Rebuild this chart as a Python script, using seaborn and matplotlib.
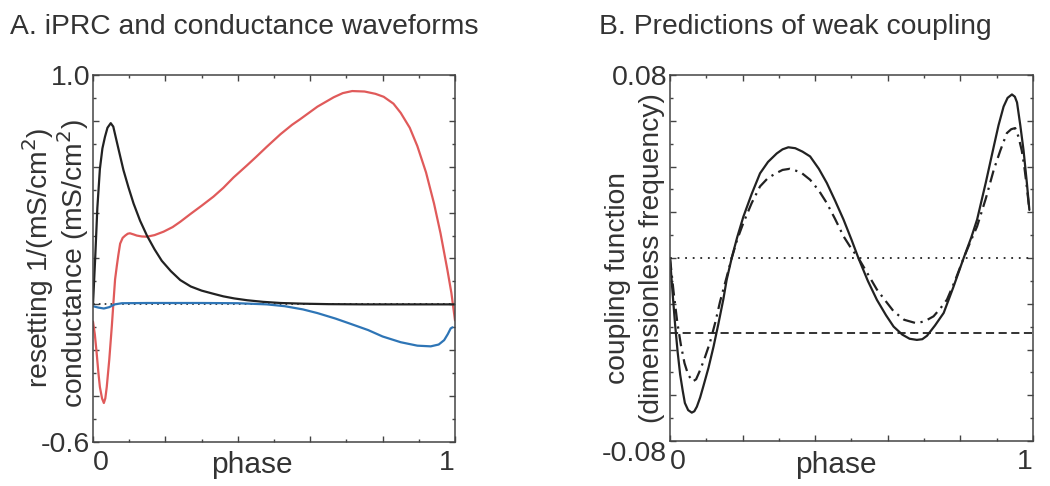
import numpy as np
import pandas as pd
import matplotlib
matplotlib.use("Agg")
import matplotlib.pyplot as plt
from matplotlib.ticker import FixedLocator, FixedFormatter
import seaborn as sns

sns.set_theme(style="white")
plt.rcParams['font.family'] = ['Liberation Sans', 'DejaVu Sans']
TXT = "#333333"
plt.rcParams['text.color'] = TXT

# ---------------- Panel A data ----------------
iprc_phase = [0, 0.006, 0.012, 0.019, 0.026, 0.033, 0.040, 0.049, 0.056, 0.070, 0.084,
              0.098, 0.112, 0.13, 0.149, 0.17, 0.19, 0.215, 0.241, 0.27, 0.30, 0.333,
              0.36, 0.39, 0.426, 0.47, 0.518, 0.58, 0.65, 0.75, 1.0]
iprc_val = [0, 0.20, 0.42, 0.59, 0.68, 0.73, 0.77, 0.79, 0.775, 0.68, 0.586,
            0.51, 0.44, 0.365, 0.30, 0.24, 0.19, 0.145, 0.106, 0.078, 0.060, 0.046,
            0.035, 0.026, 0.018, 0.011, 0.006, 0.003, 0.001, 0.0, 0.0]

red_phase = [0, 0.005, 0.010, 0.015, 0.019, 0.025, 0.030, 0.034, 0.038, 0.045, 0.052,
             0.057, 0.061, 0.066, 0.070, 0.075, 0.082, 0.089, 0.096, 0.102, 0.112,
             0.121, 0.135, 0.149, 0.17, 0.195, 0.22, 0.241, 0.27, 0.30, 0.333, 0.36,
             0.388, 0.426, 0.45, 0.48, 0.518, 0.55, 0.572, 0.62, 0.665, 0.69, 0.716,
             0.75, 0.78, 0.803, 0.83, 0.85, 0.875, 0.896, 0.92, 0.942, 0.96, 0.979,
             0.99, 1.0]
red_val = [-0.075, -0.13, -0.21, -0.30, -0.36, -0.41, -0.43, -0.41, -0.36, -0.24, -0.095,
           0.02, 0.109, 0.17, 0.215, 0.265, 0.29, 0.30, 0.308, 0.31, 0.305,
           0.30, 0.296, 0.295, 0.302, 0.317, 0.337, 0.36, 0.395, 0.43, 0.47, 0.508,
           0.553, 0.607, 0.642, 0.687, 0.742, 0.783, 0.807, 0.862, 0.903, 0.921, 0.93,
           0.928, 0.918, 0.905, 0.875, 0.835, 0.77, 0.69, 0.575, 0.44, 0.31, 0.15,
           0.05, -0.07]

blue_phase = [0, 0.015, 0.03, 0.045, 0.06, 0.08, 0.15, 0.3, 0.4, 0.48, 0.53, 0.58,
              0.62, 0.67, 0.71, 0.76, 0.80, 0.85, 0.896, 0.933, 0.955, 0.97, 0.98,
              0.988, 0.993]
blue_val = [-0.008, -0.014, -0.018, -0.012, 0.0, 0.005, 0.006, 0.006, 0.005, 0.0,
            -0.008, -0.022, -0.038, -0.062, -0.084, -0.112, -0.14, -0.165, -0.18,
            -0.183, -0.175, -0.156, -0.13, -0.105, -0.1]

# ---------------- Panel B data ----------------
solid_phase = [0, 0.007, 0.014, 0.021, 0.028, 0.035, 0.041, 0.05, 0.06, 0.067, 0.074,
               0.083, 0.092, 0.106, 0.12, 0.133, 0.147, 0.156, 0.17, 0.185, 0.202,
               0.225, 0.248, 0.27, 0.294, 0.31, 0.326, 0.345, 0.365, 0.386, 0.41,
               0.432, 0.455, 0.478, 0.5, 0.519, 0.545, 0.57, 0.595, 0.616, 0.64, 0.66,
               0.68, 0.695, 0.708, 0.73, 0.754, 0.78, 0.809, 0.83, 0.846, 0.87, 0.892,
               0.905, 0.919, 0.93, 0.942, 0.95, 0.956, 0.965, 0.974, 0.983, 0.99]
solid_val = [0.0, -0.015, -0.029, -0.041, -0.051, -0.058, -0.0634, -0.0665, -0.0676,
             -0.067, -0.065, -0.061, -0.056, -0.048, -0.0387, -0.029, -0.018, -0.0096,
             0.0, 0.009, 0.018, 0.028, 0.037, 0.042, 0.0457, 0.0475, 0.0484, 0.048,
             0.0465, 0.0444, 0.039, 0.0328, 0.025, 0.0168, 0.008, 0.0, -0.01, -0.0183,
             -0.025, -0.030, -0.0335, -0.0353, -0.0358, -0.0355, -0.034, -0.0295,
             -0.024, -0.013, 0.0, 0.009, 0.0168, 0.033, 0.0488, 0.058, 0.0662, 0.070,
             0.0715, 0.0705, 0.068, 0.058, 0.047, 0.033, 0.021]

dashdot_phase = [0, 0.01, 0.02, 0.03, 0.04, 0.05, 0.0625, 0.072, 0.083, 0.095, 0.11,
                 0.125, 0.138, 0.155, 0.17, 0.185, 0.202, 0.225, 0.248, 0.27, 0.294,
                 0.31, 0.33, 0.36, 0.386, 0.41, 0.432, 0.455, 0.478, 0.5, 0.519, 0.545,
                 0.57, 0.595, 0.616, 0.645, 0.676, 0.7, 0.726, 0.745, 0.763, 0.785,
                 0.809, 0.83, 0.846, 0.87, 0.892, 0.91, 0.928, 0.94, 0.951, 0.96, 0.969,
                 0.976, 0.983, 0.99]
dashdot_val = [0.0, -0.015, -0.028, -0.038, -0.046, -0.051, -0.054, -0.053, -0.049,
               -0.044, -0.037, -0.028, -0.019, -0.009, 0.0, 0.008, 0.0153, 0.024,
               0.0313, 0.035, 0.0372, 0.0385, 0.039, 0.0375, 0.0342, 0.0295, 0.024,
               0.017, 0.0095, 0.004, 0.0, -0.007, -0.0138, -0.019, -0.0233, -0.027,
               -0.0284, -0.0278, -0.0255, -0.022, -0.0182, -0.010, 0.0, 0.008, 0.0138,
               0.026, 0.0386, 0.047, 0.0546, 0.0563, 0.0568, 0.053, 0.047, 0.040,
               0.031, 0.021]

ref_zero = 0.0
ref_dashed = -0.033

titles = ["A. iPRC and conductance waveforms", "B. Predictions of weak coupling"]
left_ylabel = ["resetting 1/(mS/cm$^2$)", "conductance (mS/cm$^2$)"]
right_ylabel = ["coupling function", "(dimensionless frequency)"]
xlabel = "phase"
x_ticklabels = ["0", "1"]

# ---------------- figure ----------------
W, H = 1050, 486
fig = plt.figure(figsize=(W / 100, H / 100), dpi=100)

def px_axes(l, t, r, b):
    return fig.add_axes([l / W, 1 - b / H, (r - l) / W, (b - t) / H])

axA = px_axes(93, 75, 455, 442)
axB = px_axes(670, 75, 1033, 441)

RED = "#E05A5A"
BLUE = "#2E75B6"
BLK = "#222222"
LW = 1.6

# Panel A
axA.axhline(0, color=BLK, lw=1.2, ls=(0, (1, 2.5)), zorder=1)
sns.lineplot(x=red_phase, y=red_val, ax=axA, color=RED, lw=LW, sort=False, estimator=None)
sns.lineplot(x=iprc_phase, y=iprc_val, ax=axA, color=BLK, lw=LW, sort=False, estimator=None)
sns.lineplot(x=blue_phase, y=blue_val, ax=axA, color=BLUE, lw=LW, sort=False, estimator=None)
axA.set_xlim(0, 1)
axA.set_ylim(-0.6, 1.0)

# Panel B
axB.axhline(ref_zero, color=BLK, lw=1.3, ls=(0, (1, 3.2)), zorder=1)
axB.axhline(ref_dashed, color=BLK, lw=1.3, ls=(0, (4.5, 2.5)), zorder=1)
sns.lineplot(x=solid_phase, y=solid_val, ax=axB, color=BLK, lw=LW, sort=False, estimator=None)
sns.lineplot(x=dashdot_phase, y=dashdot_val, ax=axB, color=BLK, lw=LW, sort=False,
             estimator=None, linestyle=(0, (5.5, 2.5, 1, 2.5)))
axB.set_xlim(0, 1)
axB.set_ylim(-0.08, 0.08)

FS_TICK = 20.5
FS_LAB = 21.5
FS_YLAB = 20.3
FS_TITLE = 20.3
for ax, ymaj, ymin, (ylo, yhi), ylabs in [
        (axA, 0.2, 0.1, (-0.6, 1.0), ("-0.6", "1.0")),
        (axB, 0.02, 0.01, (-0.08, 0.08), ("-0.08", "0.08"))]:
    for s in ax.spines.values():
        s.set_color("#444444")
        s.set_linewidth(1.1)
        s.set_visible(True)
    ax.set_facecolor("white")
    xt = np.round(np.arange(0, 1.0001, 0.2), 3)
    ax.xaxis.set_major_locator(FixedLocator(xt))
    ax.xaxis.set_minor_locator(FixedLocator(np.round(np.arange(0.1, 1.0, 0.2), 3)))
    yt = np.round(np.arange(ylo, yhi + ymaj / 2, ymaj), 4)
    ax.yaxis.set_major_locator(FixedLocator(yt))
    ax.yaxis.set_minor_locator(FixedLocator(np.round(np.arange(ylo + ymin, yhi, ymaj), 4)))
    ax.xaxis.set_major_formatter(FixedFormatter([x_ticklabels[0]] + [""] * (len(xt) - 2) + [x_ticklabels[1]]))
    ax.yaxis.set_major_formatter(FixedFormatter([ylabs[0]] + [""] * (len(yt) - 2) + [ylabs[1]]))
    ax.tick_params(which="both", direction="in", top=True, right=True, bottom=True,
                   left=True, color="#444444", labelsize=FS_TICK, labelcolor=TXT)
    ax.tick_params(which="major", length=4.5, width=1.0)
    ax.tick_params(which="minor", length=2.5, width=1.0)
    ax.tick_params(axis="x", pad=6)
    ax.tick_params(axis="y", pad=2)
    ax.set_xlabel(xlabel, fontsize=FS_LAB, color=TXT)
    ax.xaxis.label.set_va("baseline")
    ax.set_ylabel("")
    ax.grid(False)

fig.canvas.draw()
for ax in (axA, axB):
    xl = ax.get_xticklabels()
    xl[0].set_ha("left")
    xl[-1].set_ha("right")
ylB = axB.get_yticklabels()
ylB[0].set_va("top")

axA.xaxis.set_label_coords((252 - 93) / 362, (442 - 473) / 367)
axB.xaxis.set_label_coords((836 - 670) / 363, (441 - 473) / 366)

# titles
fig.text(10 / W, 1 - 34 / H, titles[0], fontsize=FS_TITLE, color=TXT, ha="left", va="baseline")
fig.text(599 / W, 1 - 34 / H, titles[1], fontsize=FS_TITLE, color=TXT, ha="left", va="baseline")

# y labels
fig.text(38 / W, 1 - 258 / H, left_ylabel[0], fontsize=FS_YLAB, color=TXT, rotation=90,
         ha="center", va="center")
fig.text(73 / W, 1 - 264 / H, left_ylabel[1], fontsize=FS_YLAB, color=TXT, rotation=90,
         ha="center", va="center")
fig.text(618 / W, 1 - 278 / H, right_ylabel[0], fontsize=FS_YLAB, color=TXT, rotation=90,
         ha="center", va="center")
fig.text(652 / W, 1 - 258 / H, right_ylabel[1], fontsize=FS_YLAB, color=TXT, rotation=90,
         ha="center", va="center")

fig.savefig("out.png", dpi=100, facecolor="white")
